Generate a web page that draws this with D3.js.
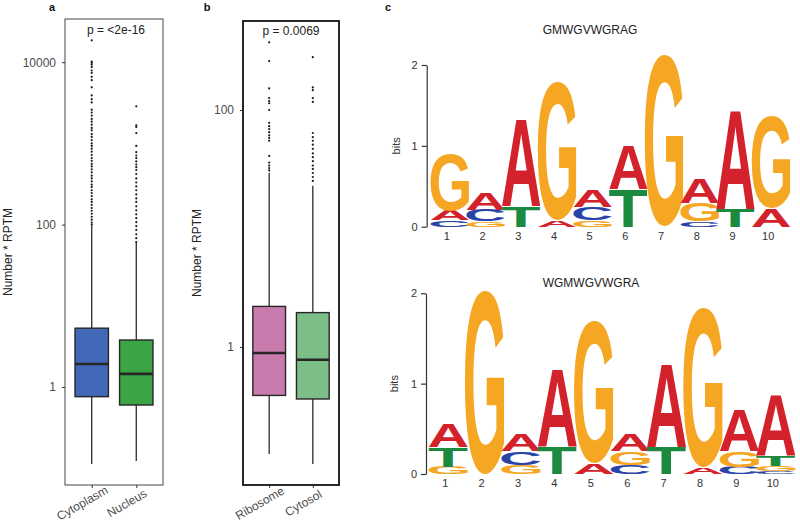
<!DOCTYPE html>
<html>
<head>
<meta charset="utf-8">
<script src="https://cdn.jsdelivr.net/npm/d3@7"></script>
<style>
    body { margin: 0; background: #fff; }
    text { font-family: "Liberation Sans", Arial, sans-serif; }
</style>
</head>
<body>
<div id="chart"></div>
<script>
// ---- panel a : Cytoplasm / Nucleus ----
var aCats = ["Cytoplasm", "Nucleus"];
var aLow = [0.113, 0.123];
var aQ1 = [0.76, 0.60];
var aMed = [1.92, 1.45];
var aQ3 = [5.3, 3.79];
var aHigh = [98, 60];
var aOutCytoplasm = [18600, 10200, 9800, 9300, 8700, 7900, 7400, 6600, 6000, 4900, 3900, 3500, 3200,
    2600, 2400, 2200, 2000, 1850, 1700, 1550, 1450, 1300, 1200, 1100, 1000, 930, 860, 790, 720, 660,
    610, 560, 520, 480, 440, 400, 370, 340, 310, 290, 265, 245, 225, 205, 190, 175, 160, 148, 136,
    125, 115, 106, 100];
var aOutNucleus = [2860, 1670, 1590, 1340, 930, 780, 710, 660, 600, 550, 510, 470, 420, 370, 330,
    295, 265, 235, 210, 190, 168, 150, 134, 120, 107, 96, 86, 76, 68, 61];
var aTicks = [1, 100, 10000];

// ---- panel b : Ribosome / Cytosol ----
var bCats = ["Ribosome", "Cytosol"];
var bLow = [0.125, 0.103];
var bQ1 = [0.39, 0.364];
var bMed = [0.89, 0.78];
var bQ3 = [2.2, 1.95];
var bHigh = [29.6, 23];
var bOutRibosome = [373, 259, 152, 126, 119, 114, 100, 78, 73, 69, 65, 61, 58, 55, 41, 36, 34, 32.4, 30.9];
var bOutCytosol = [279, 155, 147, 126, 117, 64, 59, 55, 51, 47, 43, 40, 37, 34, 31.8, 29.4, 27.2, 25.2];
var bTicks = [1, 100];

// ---- panel c : sequence logos (bits per base) ----
var logoPositions = ["1", "2", "3", "4", "5", "6", "7", "8", "9", "10"];
var logoBases = ["A", "C", "G", "T"];
var logo1A = [0.12, 0.20, 1.08, 0.08, 0.20, 0.55, 0, 0.30, 1.22, 0.23];
var logo1C = [0.08, 0.14, 0, 0, 0.16, 0, 0, 0.07, 0, 0];
var logo1G = [0.70, 0.07, 0, 1.71, 0.08, 0, 2.12, 0.22, 0, 1.14];
var logo1T = [0, 0, 0.25, 0, 0, 0.47, 0, 0, 0.22, 0];
var logo2A = [0.26, 0, 0.19, 0.86, 0.12, 0.18, 0.92, 0.07, 0.46, 0.68];
var logo2C = [0, 0, 0.15, 0, 0, 0.10, 0, 0, 0.08, 0.03];
var logo2G = [0.08, 2.03, 0.10, 0, 1.58, 0.15, 0, 1.76, 0.18, 0.06];
var logo2T = [0.22, 0, 0, 0.30, 0, 0, 0.30, 0, 0, 0.12];
var bitTicks = [0, 1, 2];

var baseColors = {A: "#d3222c", C: "#2a43a6", G: "#f5a623", T: "#1b8a3e"};

var svg = d3.select("#chart").append("svg")
    .attr("width", 800)
    .attr("height", 527);

svg.append("rect").attr("width", 800).attr("height", 527).attr("fill", "#fff");

/**
 * Draws one framed boxplot panel on a log y scale
 */
function drawBoxPanel(opt){
    var x = d3.scalePoint().domain(opt.cats).range([opt.left, opt.right]).padding(0.6);
    var y = d3.scaleLog().domain(opt.domain).range([opt.bottom, opt.top]);
    var bw = x.step() * 0.75;
    var g = svg.append("g");

    //whiskers
    g.selectAll(".whisker").data(opt.cats).enter().append("line")
        .attr("x1", function(d){ return x(d); })
        .attr("x2", function(d){ return x(d); })
        .attr("y1", function(d, i){ return y(opt.low[i]); })
        .attr("y2", function(d, i){ return y(opt.high[i]); })
        .attr("stroke", "#2b2b2b")
        .attr("stroke-width", 1.3);

    //outlier dots
    opt.outliers.forEach(function(list, i){
        g.selectAll(null).data(list).enter().append("circle")
            .attr("cx", x(opt.cats[i]))
            .attr("cy", function(d){ return y(d); })
            .attr("r", 1.1)
            .attr("fill", "#1a1a1a");
    });

    //boxes
    g.selectAll(".box").data(opt.cats).enter().append("rect")
        .attr("x", function(d){ return x(d) - bw/2; })
        .attr("y", function(d, i){ return y(opt.q3[i]); })
        .attr("width", bw)
        .attr("height", function(d, i){ return y(opt.q1[i]) - y(opt.q3[i]); })
        .attr("fill", function(d, i){ return opt.colors[i]; })
        .attr("stroke", "#262626")
        .attr("stroke-width", 1.4);

    g.selectAll(".median").data(opt.cats).enter().append("line")
        .attr("x1", function(d){ return x(d) - bw/2; })
        .attr("x2", function(d){ return x(d) + bw/2; })
        .attr("y1", function(d, i){ return y(opt.med[i]); })
        .attr("y2", function(d, i){ return y(opt.med[i]); })
        .attr("stroke", "#262626")
        .attr("stroke-width", 2.6);

    //frame
    g.append("rect")
        .attr("x", opt.left).attr("y", opt.top)
        .attr("width", opt.right - opt.left)
        .attr("height", opt.bottom - opt.top)
        .attr("fill", "none")
        .attr("stroke", opt.frameColor)
        .attr("stroke-width", opt.frameWidth);

    var ya = g.append("g")
        .attr("transform", "translate(" + opt.left + ",0)")
        .call(d3.axisLeft(y).tickValues(opt.ticks).tickFormat(d3.format("d")).tickSize(3).tickPadding(6));
    ya.select(".domain").remove();
    ya.selectAll("line").attr("stroke", "#333");
    ya.selectAll("text").attr("font-size", 12).attr("fill", "#4d4d4d").attr("font-family", null);

    var xa = g.append("g")
        .attr("transform", "translate(0," + opt.bottom + ")")
        .call(d3.axisBottom(x).tickSize(3));
    xa.select(".domain").remove();
    xa.selectAll("line").attr("stroke", "#333");
    xa.selectAll("text")
        .attr("x", null).attr("y", null).attr("dy", "0.35em")
        .attr("text-anchor", "middle")
        .attr("transform", "translate(-10,18) rotate(-30)")
        .attr("font-size", 12).attr("fill", "#4d4d4d").attr("font-family", null);

    g.append("text")
        .attr("transform", "translate(" + opt.titleX + "," + (opt.top + opt.bottom) / 2 + ") rotate(-90)")
        .attr("text-anchor", "middle")
        .attr("font-size", 12)
        .attr("fill", "#222")
        .text("Number * RPTM");

    g.append("text")
        .attr("x", opt.pX).attr("y", opt.pY)
        .attr("text-anchor", "middle")
        .attr("font-size", 12)
        .attr("fill", "#222")
        .text(opt.pLabel);
}

drawBoxPanel({cats: aCats, low: aLow, q1: aQ1, med: aMed, q3: aQ3, high: aHigh,
    outliers: [aOutCytoplasm, aOutNucleus], ticks: aTicks,
    colors: ["#4169b7", "#3ba444"],
    left: 65, right: 163, top: 19, bottom: 485, domain: [0.0621, 34040],
    frameColor: "#444", frameWidth: 1, titleX: 12,
    pX: 116, pY: 34, pLabel: "p = <2e-16"});

drawBoxPanel({cats: bCats, low: bLow, q1: bQ1, med: bMed, q3: bQ3, high: bHigh,
    outliers: [bOutRibosome, bOutCytosol], ticks: bTicks,
    colors: ["#c97bae", "#7dbe88"],
    left: 243, right: 339, top: 21, bottom: 485, domain: [0.0684, 564],
    frameColor: "#111", frameWidth: 1.8, titleX: 201,
    pX: 291, pY: 35, pLabel: "p = 0.0069"});

//measure the ink box of each base letter so it can be stretched to its stack slot
var measureCtx = document.createElement("canvas").getContext("2d");
measureCtx.font = "bold 100px 'Liberation Sans'";
var inkBox = {};
logoBases.forEach(function(ch){
    var m = measureCtx.measureText(ch);
    inkBox[ch] = {l: m.actualBoundingBoxLeft, r: m.actualBoundingBoxRight,
        a: m.actualBoundingBoxAscent, d: m.actualBoundingBoxDescent};
});

/**
 * Draws a sequence logo: stacked, stretched letters per position
 */
function drawLogo(opt){
    var x = d3.scaleBand().domain(logoPositions).range([opt.left, opt.right]);
    var y = d3.scaleLinear().domain([0, 2]).range([opt.base, opt.top2]);
    var g = svg.append("g");
    var lw = x.bandwidth() * 1.08;

    var stacks = [];
    logoPositions.forEach(function(p, i){
        var col = logoBases.map(function(b){ return {base: b, bits: opt.values[b][i]}; })
            .filter(function(d){ return d.bits > 0; })
            .sort(function(a, b){ return a.bits - b.bits; });
        var acc = 0;
        col.forEach(function(d){
            stacks.push({pos: p, base: d.base, y0: acc, y1: acc + d.bits});
            acc += d.bits;
        });
    });

    g.selectAll(".letter").data(stacks).enter().append("text")
        .attr("font-size", 100)
        .attr("font-weight", "bold")
        .attr("fill", function(d){ return baseColors[d.base]; })
        .attr("transform", function(d){
            var box = inkBox[d.base];
            var h = y(d.y0) - y(d.y1);
            var x0 = x(d.pos) + x.bandwidth()/2 - lw/2;
            return "translate(" + x0 + "," + y(d.y1) + ") scale(" + (lw / (box.l + box.r)) + "," +
                (h / (box.a + box.d)) + ") translate(" + box.l + "," + box.a + ")";
        })
        .text(function(d){ return d.base; });

    var ya = g.append("g")
        .attr("transform", "translate(" + opt.axisX + ",0)")
        .call(d3.axisLeft(y).tickValues(bitTicks).tickFormat(d3.format("d"))
            .tickSize(5).tickSizeOuter(0).tickPadding(4));
    ya.select(".domain").attr("stroke", "#333").attr("stroke-width", 1.2);
    ya.selectAll("line").attr("stroke", "#333").attr("stroke-width", 1.2);
    ya.selectAll("text").attr("font-size", 11).attr("fill", "#333").attr("font-family", null);

    g.selectAll(".poslabel").data(logoPositions).enter().append("text")
        .attr("x", function(d){ return x(d) + x.bandwidth()/2 - 3; })
        .attr("y", opt.base + 13)
        .attr("text-anchor", "middle")
        .attr("font-size", 11)
        .attr("fill", "#333")
        .text(function(d){ return d; });

    g.append("text")
        .attr("transform", "translate(" + opt.bitsX + "," + y(1) + ") rotate(-90)")
        .attr("text-anchor", "middle")
        .attr("font-size", 11)
        .attr("fill", "#333")
        .text("bits");

    g.append("text")
        .attr("x", opt.titleX).attr("y", opt.titleY)
        .attr("text-anchor", "middle")
        .attr("font-size", 12)
        .attr("fill", "#222")
        .text(opt.title);
}

drawLogo({values: {A: logo1A, C: logo1C, G: logo1G, T: logo1T},
    left: 432, right: 789, base: 226.7, top2: 65, axisX: 426.7, bitsX: 400,
    title: "GMWGVWGRAG", titleX: 590, titleY: 34});

drawLogo({values: {A: logo2A, C: logo2C, G: logo2G, T: logo2T},
    left: 430, right: 794, base: 474, top2: 293.3, axisX: 426, bitsX: 398,
    title: "WGMWGVWGRA", titleX: 591, titleY: 287});

//panel letters
svg.selectAll(".panel").data([["a", 52], ["b", 207], ["c", 388]]).enter().append("text")
    .attr("x", function(d){ return d[1]; })
    .attr("y", 11)
    .attr("text-anchor", "middle")
    .attr("font-size", 11)
    .attr("font-weight", "bold")
    .attr("fill", "#111")
    .text(function(d){ return d[0]; });
</script>
</body>
</html>
